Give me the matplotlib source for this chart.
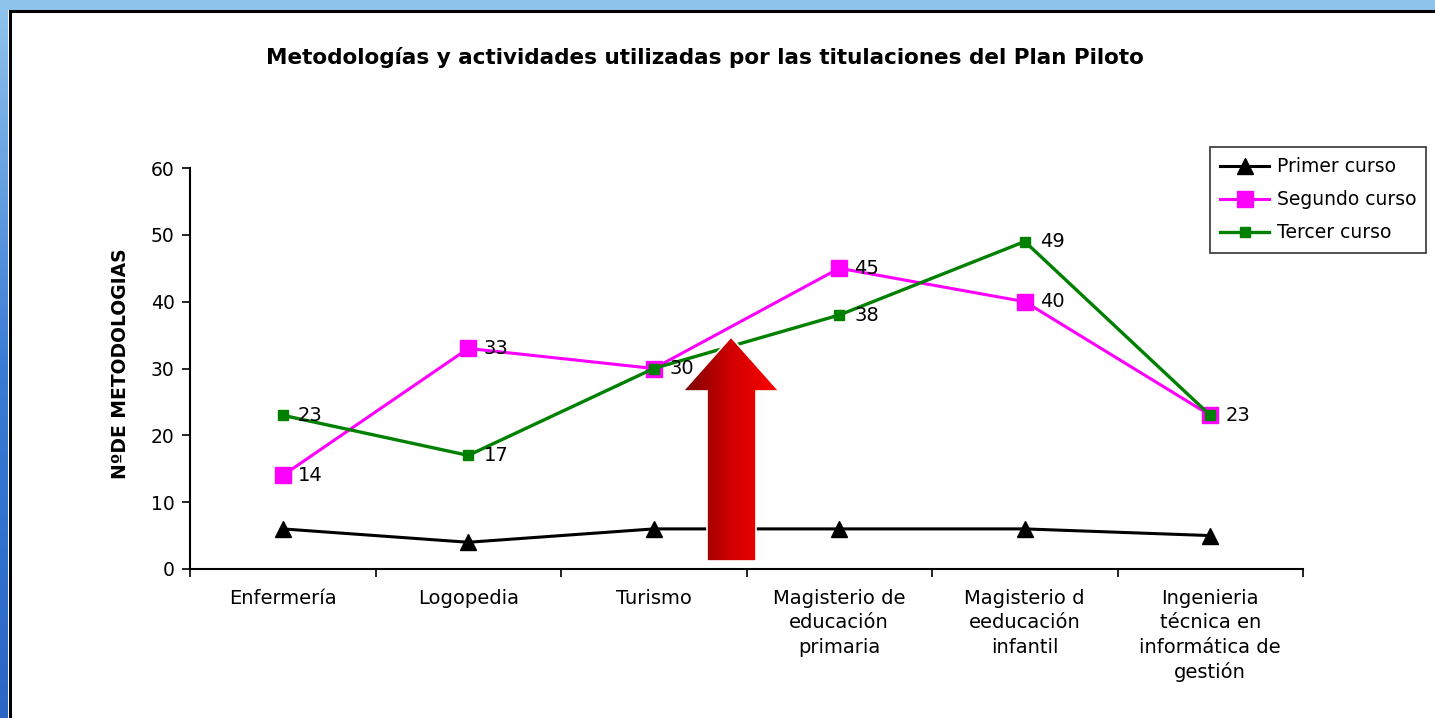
import numpy as np
import matplotlib.pyplot as plt
from matplotlib.patches import Polygon
from matplotlib.colors import LinearSegmentedColormap

plt.rcParams['font.family'] = ['DejaVu Sans', 'Liberation Sans']

# data
categorias = ["Enfermería", "Logopedia", "Turismo",
              "Magisterio de\neducación\nprimaria",
              "Magisterio d\needucación\ninfantil",
              "Ingenieria\ntécnica en\ninformática de\ngestión"]
primer = [6, 4, 6, 6, 6, 5]
segundo = [14, 33, 30, 45, 40, 23]
tercer = [23, 17, 30, 38, 49, 23]
etiq_segundo = [0, 1, 3, 4]      # points of Segundo with visible labels
etiq_tercer = [0, 1, 2, 3, 4, 5]

W, H = 1435, 718
fig = plt.figure(figsize=(W / 100, H / 100), dpi=100)

# slide frame behind everything
bg = fig.add_axes([0, 0, 1, 1], zorder=-5)
bg.axis("off")
bg.add_patch(plt.Rectangle((0, 0), W, 10, color="#8EC3EC", lw=0))
grad = np.linspace(0, 1, 256).reshape(-1, 1)
bg.imshow(grad, cmap=LinearSegmentedColormap.from_list("b", ["#8EC3EC", "#3A7BD5", "#2A66C6"]),
          extent=(0, 8, H, 10), aspect="auto")
bg.plot([9.5, W], [10.5, 10.5], color="black", lw=2.2)
bg.plot([9.5, 9.5], [10.5, H], color="black", lw=2.2)
bg.set_xlim(0, W)
bg.set_ylim(H, 0)

ax = fig.add_axes([190 / W, 1 - 569 / H, (1303 - 190) / W, (569 - 168) / H])
ax.patch.set_alpha(0)
x = np.arange(len(categorias))

ax.plot(x, primer, color="black", lw=2.2, marker="^", ms=12, label="Primer curso")
ax.plot(x, segundo, color="#FF00FF", lw=2.2, marker="s", ms=12, label="Segundo curso")
ax.plot(x, tercer, color="#008000", lw=2.4, marker="s", ms=6.5, label="Tercer curso")

for i in etiq_segundo:
    ax.annotate(str(segundo[i]), (x[i], segundo[i]), xytext=(11, 0),
                textcoords="offset points", va="center", fontsize=14)
for i in etiq_tercer:
    ax.annotate(str(tercer[i]), (x[i], tercer[i]), xytext=(11, 0),
                textcoords="offset points", va="center", fontsize=14)

ax.set_xlim(-0.5, 5.5)
ax.set_ylim(0, 60)
ax.set_yticks(range(0, 61, 10))
ax.set_xticks(np.arange(-0.5, 6, 1))
ax.set_xticklabels([])
ax.tick_params(axis="x", length=6, width=1.2)
ax.tick_params(axis="y", length=6, width=1.2, labelsize=13.5, pad=5)
for i, c in enumerate(categorias):
    ax.text(x[i], -3.0, c, ha="center", va="top", fontsize=14, linespacing=1.35)
for s in ["top", "right"]:
    ax.spines[s].set_visible(False)
for s in ["left", "bottom"]:
    ax.spines[s].set_linewidth(1.5)

fig.text(121 / W, 1 - 364 / H, "NºDE METODOLOGIAS", rotation=90, ha="center", va="center",
         fontsize=13.5, fontweight="bold")

fig.text(705 / W, 1 - 58 / H, "Metodologías y actividades utilizadas por las titulaciones del Plan Piloto",
         ha="center", va="center", fontsize=15.5, fontweight="bold")

leg = fig.legend(loc="upper left", bbox_to_anchor=(1210 / W, 1 - 147 / H), fontsize=13.5,
                 frameon=True, fancybox=False, edgecolor="black", handlelength=2.6,
                 labelspacing=0.75, borderpad=0.55, handletextpad=0.4, borderaxespad=0)
leg.get_frame().set_linewidth(1.2)

# red arrow on top
ov = fig.add_axes([0, 0, 1, 1], zorder=5)
ov.axis("off")
pts = [(731, 337), (779, 391), (756, 391), (756, 561), (707, 561), (707, 391), (683, 391)]
poly = Polygon(pts, closed=True, facecolor="none", edgecolor="none")
ov.add_patch(poly)
g = np.linspace(0, 1, 256).reshape(1, -1)
im = ov.imshow(g, cmap=LinearSegmentedColormap.from_list("r", ["#7A0000", "#D00000", "#FF0000"]),
               extent=(683, 779, 561, 337), aspect="auto")
im.set_clip_path(poly)
ov.add_patch(Polygon(pts, closed=True, facecolor="none", edgecolor="white", lw=1.2, zorder=3))
ov.set_xlim(0, W)
ov.set_ylim(H, 0)

fig.savefig("out.png", dpi=100)
